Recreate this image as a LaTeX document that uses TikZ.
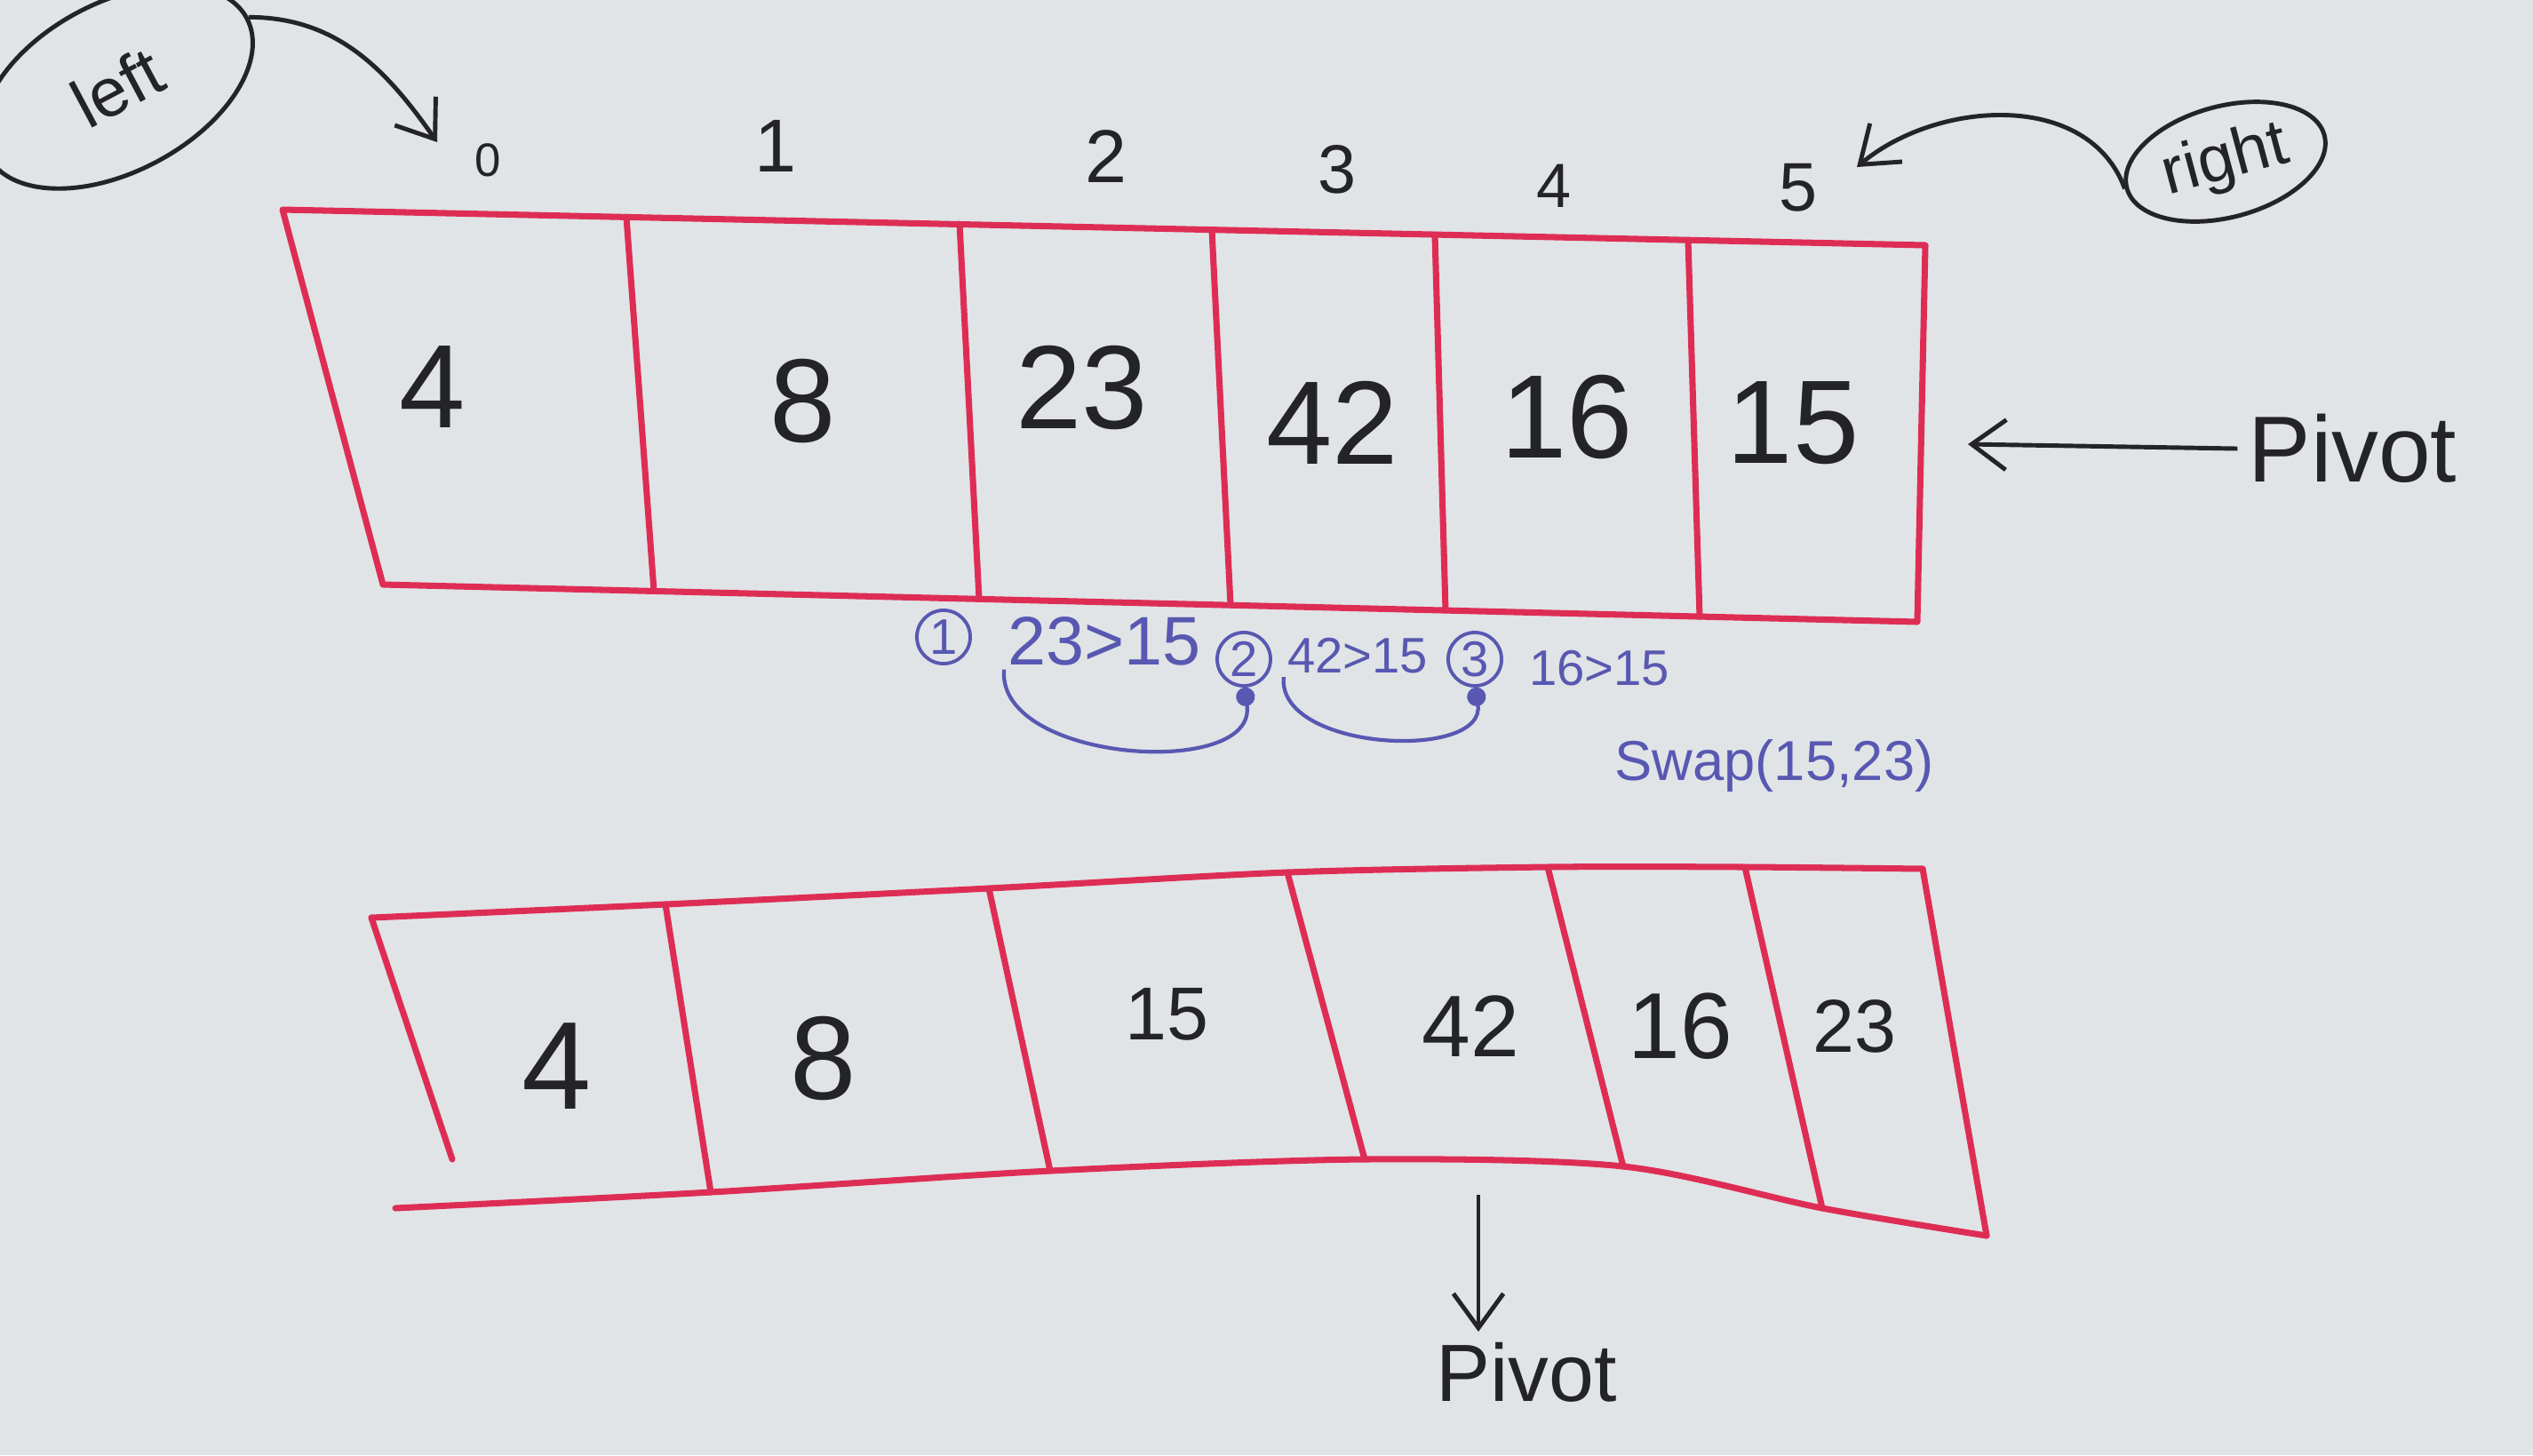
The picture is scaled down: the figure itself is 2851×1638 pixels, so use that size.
\documentclass[tikz,border=0pt]{standalone}
\usepackage{fontspec}
\setmainfont{Liberation Sans}
\usetikzlibrary{shapes.geometric,arrows.meta}

\definecolor{board}{RGB}{224,228,230}
\definecolor{marker}{RGB}{222,45,85}
\definecolor{ink}{RGB}{35,35,40}
\definecolor{pen}{RGB}{88,88,178}

\tikzset{
  cellline/.style={marker, line width=2pt, line join=round, line cap=round},
  digit/.style={font=\fontsize{38}{40}\selectfont, text=ink},
  index/.style={font=\fontsize{24}{26}\selectfont, text=ink},
  pointer/.style={ink, line width=1.4pt},
  bubble/.style={ellipse, draw=ink, line width=1.4pt, text=ink, inner sep=0pt},
  note/.style={text=pen, inner sep=1pt},
  circled/.style={circle, draw=pen, line width=1.1pt, inner sep=0pt, minimum size=0.6cm, text=pen, font=\fontsize{16}{16}\selectfont},
  hop/.style={pen, line width=1.2pt, -{Circle[length=6pt]}},
}

\begin{document}
\begin{tikzpicture}[x=0.01cm, y=0.01cm, >={Straight Barb[length=11pt, width=16pt, line width=1.4pt]}]
\useasboundingbox (0,0) rectangle (2851,-1638);
\fill [board] (0,0) rectangle (2851,-1638);

% first array
\draw [cellline] (318,-236) -- (2167,-276) -- (2158,-700) -- (431,-658) -- cycle;
\foreach \xt/\yt/\xb/\yb in {705/244/736/665, 1080/252/1102/674, 1364/259/1385/681, 1615/264/1627/687, 1900/270/1913/694}
  \draw [cellline] (\xt,-\yt) -- (\xb,-\yb);
\foreach \v/\x/\y [count=\i from 0] in {4/487/436, 8/904/451, 23/1218/436, 42/1500/476, 16/1764/469, 15/2018/476}
  \node [digit] (top\i) at (\x,-\y) {\v};
\foreach \x/\y/\s [count=\i from 0] in {549/180/15, 873/164/24, 1245/176/24, 1505/191/22, 1749/209/20, 2024/211/22}
  \node [index, font=\fontsize{\s}{\s}\selectfont] (idx\i) at (\x,-\y) {\i};

\node [bubble, rotate=28, minimum width=3.3cm, minimum height=1.9cm, font=\fontsize{22}{22}\selectfont] (leftlbl) at (132,-98) {left};
\coordinate (leftTip) at (492,-160);
\draw [pointer, ->] (leftlbl.east) to[out=0, in=125] (leftTip);

\node [bubble, rotate=15, minimum width=2.3cm, minimum height=1.25cm, font=\fontsize{21}{21}\selectfont] (rightlbl) at (2505,-182) {right};
\coordinate (rightTip) at (2090,-188);
\draw [pointer, ->] (rightlbl.west) to[out=110, in=40] (rightTip);

\node [text=ink, font=\fontsize{30}{30}\selectfont] (pivotA) at (2648,-505) {Pivot};
\coordinate (pivotAtip) at (2215,-500);
\draw [pointer, ->] (pivotA.west) -- (pivotAtip);

% comparisons
\node [circled] (step1) at (1062,-717) {1};
\node [note, font=\fontsize{22}{22}\selectfont] (cmp1) at (1243,-722) {23>15};
\node [circled] (step2) at (1400,-742) {2};
\node [note, font=\fontsize{16}{16}\selectfont] (cmp2) at (1528,-738) {42>15};
\node [circled] (step3) at (1660,-742) {3};
\node [note, font=\fontsize{16}{16}\selectfont] (cmp3) at (1800,-752) {16>15};
\node [note, font=\fontsize{18}{18}\selectfont] (swap) at (1997,-862) {Swap(15,23)};
\draw [hop] (cmp1.south west) to[out=-95, in=-80] (step2.south);
\draw [hop] (cmp2.south west) to[out=-95, in=-80] (step3.south);

% second array
\draw [cellline] plot [smooth] coordinates {(418,-1033) (749,-1018) (1113,-1000) (1449,-982) (1742,-976) (1964,-976) (2164,-978)};
\draw [cellline] (418,-1033) -- (509,-1305);
\draw [cellline] (2164,-978) -- (2236,-1391);
\draw [cellline] plot [smooth] coordinates {(445,-1360) (800,-1342) (1182,-1318) (1536,-1305) (1827,-1313) (2051,-1360) (2236,-1391)};
\foreach \xt/\yt/\xb/\yb in {749/1018/800/1342, 1113/1000/1182/1318, 1449/982/1536/1305, 1742/976/1827/1313, 1964/976/2051/1360}
  \draw [cellline] (\xt,-\yt) -- (\xb,-\yb);
\foreach \v/\x/\y/\s [count=\i from 0] in {4/627/1200/40, 8/927/1191/38, 15/1313/1142/24, 42/1655/1155/28, 16/1891/1155/30, 23/2087/1155/24}
  \node [digit, font=\fontsize{\s}{\s}\selectfont] (bot\i) at (\x,-\y) {\v};

\node [text=ink, font=\fontsize{26}{26}\selectfont] (pivotB) at (1718,-1545) {Pivot};
\coordinate (pivotBtail) at (1664,-1345);
\draw [pointer, ->] (pivotBtail) -- (pivotBtail |- pivotB.north);

\end{tikzpicture}
\end{document}
